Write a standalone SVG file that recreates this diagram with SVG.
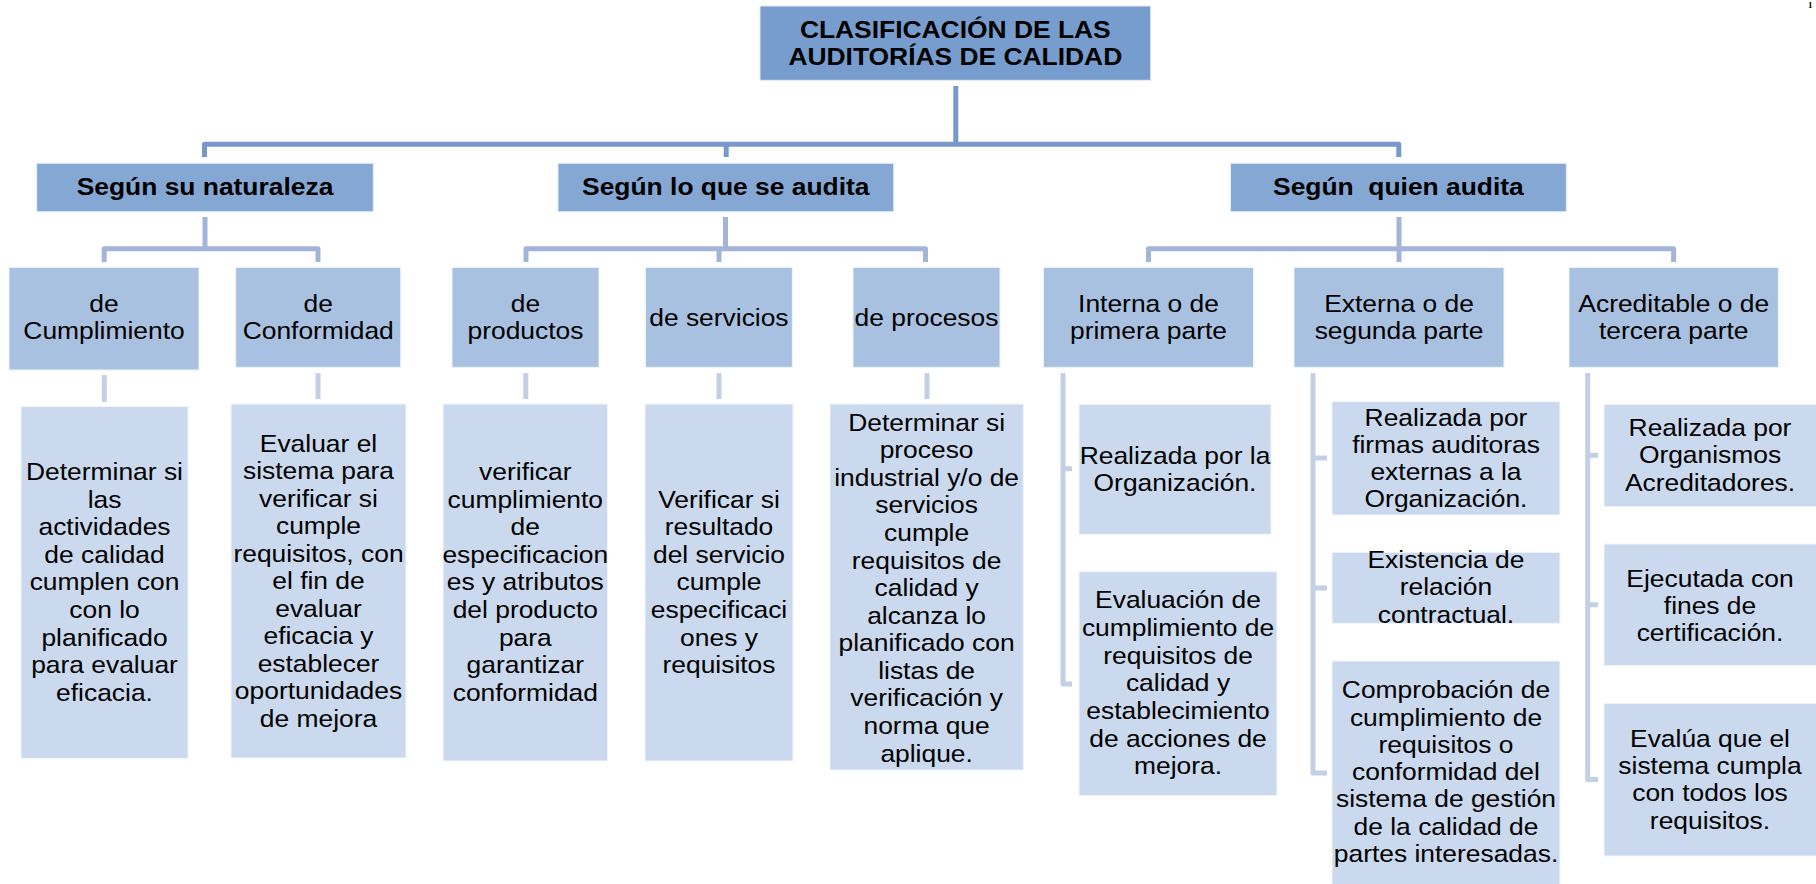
<svg xmlns="http://www.w3.org/2000/svg" width="1816" height="884" viewBox="0 0 1816 884">
<style>
  text { font-family: "Liberation Sans", Arial, sans-serif; font-size: 24px; fill: #000; text-anchor: middle; }
  .b { font-weight: bold; }
  .c1 { fill: none; stroke: #7798c8; stroke-width: 5; stroke-linejoin: round; }
  .c2 { fill: none; stroke: #a2b5d9; stroke-width: 5; stroke-linejoin: round; }
  .c3 { fill: none; stroke: #c3cfe5; stroke-width: 5; stroke-linejoin: round; }
  .n0 { fill: #769dcd; stroke: #e4ecf6; stroke-width: 1; }
  .n1 { fill: #85a7d3; stroke: #e4ecf6; stroke-width: 1; }
  .n2 { fill: #a9c1e0; stroke: #eef3fa; stroke-width: 1; }
  .n3 { fill: #cad9ed; stroke: #f2f6fb; stroke-width: 1; }
</style>
<rect width="1816" height="884" fill="#ffffff"/>
<text x="1808" y="8" style="font-family:'Liberation Serif',serif;font-size:9px;font-weight:bold;text-anchor:start">1</text>

<g id="connectors">
  <path class="c1" d="M955.8,86 V144.2"/>
  <path class="c1" d="M204.5,157 V144.2 H1398.8 V157"/>
  <path class="c1" d="M726.2,144.2 V157"/>

  <path class="c2" d="M205,217 V248.8"/>
  <path class="c2" d="M104.2,262 V248.8 H318 V262"/>
  <path class="c2" d="M725.5,217 V248.8"/>
  <path class="c2" d="M526,262 V248.8 H925.5 V262"/>
  <path class="c2" d="M719,248.8 V262"/>
  <path class="c2" d="M1399,217 V248.8"/>
  <path class="c2" d="M1148.5,262 V248.8 H1673.6 V262"/>
  <path class="c2" d="M1399,248.8 V262"/>

  <path class="c3" d="M104.3,375 V402"/>
  <path class="c3" d="M318,373 V399"/>
  <path class="c3" d="M525.8,373 V399"/>
  <path class="c3" d="M719,373 V399"/>
  <path class="c3" d="M927,373 V399"/>

  <path class="c3" d="M1063,373 V684 H1072"/>
  <path class="c3" d="M1063,468.7 H1072"/>
  <path class="c3" d="M1313,373 V773 H1327"/>
  <path class="c3" d="M1313,458 H1327"/>
  <path class="c3" d="M1313,588 H1327"/>
  <path class="c3" d="M1587.7,373 V779.5 H1598"/>
  <path class="c3" d="M1587.7,455.3 H1598"/>
  <path class="c3" d="M1587.7,604.7 H1598"/>
</g>

<g id="root">
  <rect class="n0" x="760" y="6" width="390.7" height="74.3"/>
  <text class="b" transform="matrix(1.1 0 0 1 955.3 0)"><tspan x="0" y="37.7">CLASIFICACIÓN DE LAS</tspan><tspan x="0" y="65">AUDITORÍAS DE CALIDAD</tspan></text>
</g>

<g id="naturaleza">
  <rect class="n1" x="36.7" y="163.3" width="336.6" height="48.4"/>
  <text class="b" transform="matrix(1.1 0 0 1 205 0)"><tspan x="0" y="195">Según su naturaleza</tspan></text>
</g>
<g id="loquese">
  <rect class="n1" x="558" y="163.3" width="335.7" height="48.4"/>
  <text class="b" transform="matrix(1.1 0 0 1 725.8 0)"><tspan x="0" y="195">Según lo que se audita</tspan></text>
</g>
<g id="quien">
  <rect class="n1" x="1230.5" y="163.3" width="335.8" height="48.4"/>
  <text class="b" transform="matrix(1.1 0 0 1 1398.4 0)" xml:space="preserve"><tspan x="0" y="195">Según  quien audita</tspan></text>
</g>

<g id="cumplimiento">
  <rect class="n2" x="9" y="267.5" width="190" height="102.5"/>
  <text transform="matrix(1.1 0 0 1 104 0)"><tspan x="0" y="312">de</tspan><tspan x="0" y="339.5">Cumplimiento</tspan></text>
</g>
<g id="conformidad">
  <rect class="n2" x="235.7" y="267.5" width="165" height="99.8"/>
  <text transform="matrix(1.1 0 0 1 318.2 0)"><tspan x="0" y="312">de</tspan><tspan x="0" y="339.5">Conformidad</tspan></text>
</g>
<g id="productos">
  <rect class="n2" x="452" y="267.5" width="147" height="99.8"/>
  <text transform="matrix(1.1 0 0 1 525.5 0)"><tspan x="0" y="312">de</tspan><tspan x="0" y="339.5">productos</tspan></text>
</g>
<g id="servicios">
  <rect class="n2" x="645.4" y="267.5" width="147" height="99.8"/>
  <text transform="matrix(1.1 0 0 1 718.9 0)"><tspan x="0" y="326">de servicios</tspan></text>
</g>
<g id="procesos">
  <rect class="n2" x="853" y="267.5" width="147" height="99.8"/>
  <text transform="matrix(1.1 0 0 1 926.5 0)"><tspan x="0" y="326">de procesos</tspan></text>
</g>
<g id="interna">
  <rect class="n2" x="1043.5" y="267.5" width="210" height="99.8"/>
  <text transform="matrix(1.1 0 0 1 1148.5 0)"><tspan x="0" y="312">Interna o de</tspan><tspan x="0" y="339.5">primera parte</tspan></text>
</g>
<g id="externa">
  <rect class="n2" x="1294" y="267.5" width="210" height="99.8"/>
  <text transform="matrix(1.1 0 0 1 1399 0)"><tspan x="0" y="312">Externa o de</tspan><tspan x="0" y="339.5">segunda parte</tspan></text>
</g>
<g id="acreditable">
  <rect class="n2" x="1569" y="267.5" width="209.4" height="99.8"/>
  <text transform="matrix(1.1 0 0 1 1673.7 0)"><tspan x="0" y="312">Acreditable o de</tspan><tspan x="0" y="339.5">tercera parte</tspan></text>
</g>

<g id="cumplimiento-desc">
  <rect class="n3" x="21" y="406.5" width="167" height="352"/>
  <text transform="matrix(1.1 0 0 1 104.5 0)"><tspan x="0" y="480">Determinar si</tspan><tspan x="0" y="507.6">las</tspan><tspan x="0" y="535.2">actividades</tspan><tspan x="0" y="562.8">de calidad</tspan><tspan x="0" y="590.4">cumplen con</tspan><tspan x="0" y="618">con lo</tspan><tspan x="0" y="645.6">planificado</tspan><tspan x="0" y="673.2">para evaluar</tspan><tspan x="0" y="700.8">eficacia.</tspan></text>
</g>
<g id="conformidad-desc">
  <rect class="n3" x="231" y="404" width="175" height="354"/>
  <text transform="matrix(1.1 0 0 1 318.5 0)"><tspan x="0" y="451.7">Evaluar el</tspan><tspan x="0" y="479.2">sistema para</tspan><tspan x="0" y="506.7">verificar si</tspan><tspan x="0" y="534.2">cumple</tspan><tspan x="0" y="561.7">requisitos, con</tspan><tspan x="0" y="589.2">el fin de</tspan><tspan x="0" y="616.7">evaluar</tspan><tspan x="0" y="644.2">eficacia y</tspan><tspan x="0" y="671.7">establecer</tspan><tspan x="0" y="699.2">oportunidades</tspan><tspan x="0" y="726.7">de mejora</tspan></text>
</g>
<g id="productos-desc">
  <rect class="n3" x="443" y="404" width="164.5" height="357"/>
  <text transform="matrix(1.1 0 0 1 525.3 0)"><tspan x="0" y="480">verificar</tspan><tspan x="0" y="507.6">cumplimiento</tspan><tspan x="0" y="535.2">de</tspan><tspan x="0" y="562.8">especificacion</tspan><tspan x="0" y="590.4">es y atributos</tspan><tspan x="0" y="618">del producto</tspan><tspan x="0" y="645.6">para</tspan><tspan x="0" y="673.2">garantizar</tspan><tspan x="0" y="700.8">conformidad</tspan></text>
</g>
<g id="servicios-desc">
  <rect class="n3" x="645" y="404" width="148" height="357"/>
  <text transform="matrix(1.1 0 0 1 719 0)"><tspan x="0" y="507.7">Verificar si</tspan><tspan x="0" y="535.3">resultado</tspan><tspan x="0" y="562.9">del servicio</tspan><tspan x="0" y="590.5">cumple</tspan><tspan x="0" y="618.1">especificaci</tspan><tspan x="0" y="645.7">ones y</tspan><tspan x="0" y="673.3">requisitos</tspan></text>
</g>
<g id="procesos-desc">
  <rect class="n3" x="830" y="404" width="193.3" height="366"/>
  <text transform="matrix(1.1 0 0 1 926.6 0)"><tspan x="0" y="430.7">Determinar si</tspan><tspan x="0" y="458.3">proceso</tspan><tspan x="0" y="485.9">industrial y/o de</tspan><tspan x="0" y="513.4">servicios</tspan><tspan x="0" y="541">cumple</tspan><tspan x="0" y="568.6">requisitos de</tspan><tspan x="0" y="596.2">calidad y</tspan><tspan x="0" y="623.8">alcanza lo</tspan><tspan x="0" y="651.3">planificado con</tspan><tspan x="0" y="678.9">listas de</tspan><tspan x="0" y="706.5">verificación y</tspan><tspan x="0" y="734.1">norma que</tspan><tspan x="0" y="761.7">aplique.</tspan></text>
</g>

<g id="interna-1">
  <rect class="n3" x="1079" y="404.3" width="192" height="130"/>
  <text transform="matrix(1.1 0 0 1 1175 0)"><tspan x="0" y="464">Realizada por la</tspan><tspan x="0" y="491">Organización.</tspan></text>
</g>
<g id="interna-2">
  <rect class="n3" x="1079" y="571.7" width="198" height="224"/>
  <text transform="matrix(1.1 0 0 1 1178 0)"><tspan x="0" y="608.3">Evaluación de</tspan><tspan x="0" y="636">cumplimiento de</tspan><tspan x="0" y="663.7">requisitos de</tspan><tspan x="0" y="691.3">calidad y</tspan><tspan x="0" y="719">establecimiento</tspan><tspan x="0" y="746.7">de acciones de</tspan><tspan x="0" y="774.3">mejora.</tspan></text>
</g>
<g id="externa-1">
  <rect class="n3" x="1332" y="401.7" width="228" height="113.3"/>
  <text transform="matrix(1.1 0 0 1 1446 0)"><tspan x="0" y="425.7">Realizada por</tspan><tspan x="0" y="452.7">firmas auditoras</tspan><tspan x="0" y="479.7">externas a la</tspan><tspan x="0" y="506.7">Organización.</tspan></text>
</g>
<g id="externa-2">
  <rect class="n3" x="1332" y="552.3" width="228" height="71"/>
  <text transform="matrix(1.1 0 0 1 1446 0)"><tspan x="0" y="567.7">Existencia de</tspan><tspan x="0" y="595.2">relación</tspan><tspan x="0" y="622.7">contractual.</tspan></text>
</g>
<g id="externa-3">
  <rect class="n3" x="1332" y="661" width="228" height="224"/>
  <text transform="matrix(1.1 0 0 1 1446 0)"><tspan x="0" y="698.3">Comprobación de</tspan><tspan x="0" y="725.6">cumplimiento de</tspan><tspan x="0" y="752.9">requisitos o</tspan><tspan x="0" y="780.2">conformidad del</tspan><tspan x="0" y="807.5">sistema de gestión</tspan><tspan x="0" y="834.8">de la calidad de</tspan><tspan x="0" y="862.1">partes interesadas.</tspan></text>
</g>
<g id="acreditable-1">
  <rect class="n3" x="1604" y="404.3" width="213" height="102.4"/>
  <text transform="matrix(1.1 0 0 1 1710 0)"><tspan x="0" y="436">Realizada por</tspan><tspan x="0" y="463.5">Organismos</tspan><tspan x="0" y="491">Acreditadores.</tspan></text>
</g>
<g id="acreditable-2">
  <rect class="n3" x="1604" y="544" width="213" height="121.7"/>
  <text transform="matrix(1.1 0 0 1 1710 0)"><tspan x="0" y="586.7">Ejecutada con</tspan><tspan x="0" y="614">fines de</tspan><tspan x="0" y="641.3">certificación.</tspan></text>
</g>
<g id="acreditable-3">
  <rect class="n3" x="1604" y="703.3" width="213" height="152.7"/>
  <text transform="matrix(1.1 0 0 1 1710 0)"><tspan x="0" y="746.7">Evalúa que el</tspan><tspan x="0" y="774">sistema cumpla</tspan><tspan x="0" y="801.3">con todos los</tspan><tspan x="0" y="828.6">requisitos.</tspan></text>
</g>
</svg>
